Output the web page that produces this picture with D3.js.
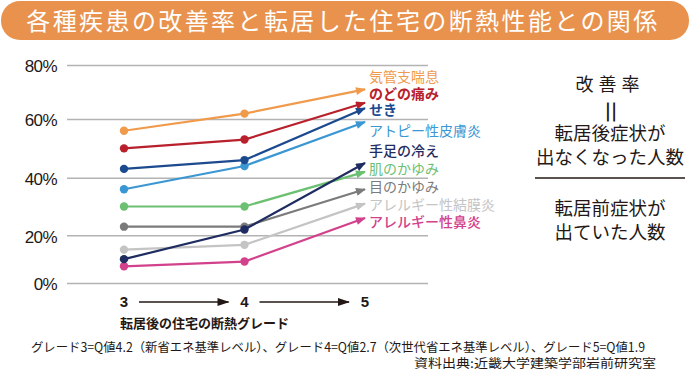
<!DOCTYPE html>
<html>
<head>
<meta charset="utf-8">
<script src="https://cdn.jsdelivr.net/npm/d3@7"></script>
<style>
  body { margin: 0; background: #fff; }
  text { font-family: "Noto Sans CJK JP", "Noto Sans", sans-serif; }
</style>
</head>
<body>
<svg id="chart" width="690" height="370"></svg>
<script>
// grades on the x axis (3 -> 4 -> 5)
const grades = [3, 4, 5];
const yTicks = [0, 20, 40, 60, 80];

// improvement rate (%) per grade
const kikanshi = [56, 62, 71];   // 気管支喘息
const nodo     = [50, 53, 66];   // のどの痛み
const seki     = [43, 46, 64];   // せき
const atopy    = [36, 44, 59];   // アトピー性皮膚炎
const teashi   = [10, 22, 45];   // 手足の冷え
const hada     = [30, 30, 42];   // 肌のかゆみ
const me       = [23, 23, 36];   // 目のかゆみ
const ketsumaku = [14, 16, 31];  // アレルギー性結膜炎
const bien     = [7, 9, 26];     // アレルギー性鼻炎

const seriesNames = ["気管支喘息", "のどの痛み", "せき", "アトピー性皮膚炎", "手足の冷え",
  "肌のかゆみ", "目のかゆみ", "アレルギー性結膜炎", "アレルギー性鼻炎"];
const seriesValues = [kikanshi, nodo, seki, atopy, teashi, hada, me, ketsumaku, bien];
const seriesColors = ["#f09a4c", "#b8202c", "#1c4a8f", "#3a97d3", "#1f2c62",
  "#6cc072", "#7b7b7b", "#c4c4c4", "#d2418b"];
// label rows on the right (y centre)
const labelY = [77, 94, 110, 131, 151, 169, 187, 205, 222];
const labelWeight = [400, 700, 700, 400, 500, 400, 400, 400, 500];

const svg = d3.select("#chart");

// title bar
svg.append("rect")
  .attr("x", 1).attr("y", 1).attr("width", 688).attr("height", 39)
  .attr("rx", 19).attr("fill", "#e8924d");
svg.append("text")
  .attr("x", 343).attr("y", 21).attr("dy", "0.36em")
  .attr("text-anchor", "middle").attr("fill", "#fff")
  .attr("font-size", 24).attr("letter-spacing", 2.4)
  .text("各種疾患の改善率と転居した住宅の断熱性能との関係");

const x = d3.scaleLinear().domain([3, 5]).range([124, 365]);
// the printed grid is not evenly spaced, follow it
const y = d3.scaleLinear().domain(yTicks).range([283, 235.3, 177.7, 119, 65]);

const gridLeft = 67, gridRight = 428;

const yAxis = svg.append("g")
  .attr("transform", "translate(" + gridLeft + ",0)")
  .call(d3.axisLeft(y).tickValues(yTicks).tickFormat(d => d + "%")
    .tickSize(-(gridRight - gridLeft)).tickPadding(10));
yAxis.select(".domain").remove();
yAxis.selectAll(".tick line").attr("stroke", "#b3b3b3").attr("stroke-width", 1.5);
yAxis.selectAll(".tick text")
  .attr("x", -10).attr("dy", "0.4em")
  .style("font-family", "'Liberation Sans', Arial, sans-serif")
  .attr("font-size", 17).attr("fill", "#231815")
  .attr("letter-spacing", -0.6);

// arrow markers, one per colour
const defs = svg.append("defs");
seriesColors.forEach((c, i) => {
  defs.append("marker")
    .attr("id", "arr" + i)
    .attr("markerUnits", "userSpaceOnUse")
    .attr("viewBox", "0 0 10 8")
    .attr("markerWidth", 11).attr("markerHeight", 8)
    .attr("refX", 9).attr("refY", 4)
    .attr("orient", "auto")
    .append("path").attr("d", "M0,0 L10,4 L0,8 Z").attr("fill", c);
});
defs.append("marker")
  .attr("id", "arrBlack")
  .attr("markerUnits", "userSpaceOnUse")
  .attr("viewBox", "0 0 12 8")
  .attr("markerWidth", 13).attr("markerHeight", 8)
  .attr("refX", 11).attr("refY", 4)
  .attr("orient", "auto")
  .append("path").attr("d", "M0,0 L12,4 L0,8 Z").attr("fill", "#231815");

const line = d3.line().x((d, i) => x(grades[i])).y(d => y(d));

const order = d3.range(seriesValues.length).reverse();
order.forEach(i => {
  const vals = seriesValues[i];
  const g = svg.append("g");
  g.append("path")
    .attr("d", line(vals))
    .attr("fill", "none")
    .attr("stroke", seriesColors[i])
    .attr("stroke-width", 2.2)
    .attr("marker-end", "url(#arr" + i + ")");
  g.selectAll("circle")
    .data(vals.slice(0, 2))
    .join("circle")
    .attr("cx", (d, j) => x(grades[j]))
    .attr("cy", d => y(d))
    .attr("r", 4.2)
    .attr("fill", seriesColors[i]);
});

// series labels
svg.append("g").selectAll("text")
  .data(seriesNames)
  .join("text")
  .attr("x", 369)
  .attr("y", (d, i) => labelY[i])
  .attr("dy", "0.34em")
  .attr("font-size", 14)
  .attr("font-weight", (d, i) => labelWeight[i])
  .attr("fill", (d, i) => seriesColors[i])
  .text(d => d);

// grade labels with arrows between them
const gx = svg.append("g");
gx.selectAll("text")
  .data(grades)
  .join("text")
  .attr("x", d => x(d))
  .attr("y", 302)
  .attr("dy", "0.36em")
  .attr("text-anchor", "middle")
  .style("font-family", "'Liberation Sans', Arial, sans-serif")
  .attr("font-size", 15).attr("font-weight", 700)
  .attr("fill", "#231815")
  .text(d => d);
gx.selectAll("line")
  .data(grades.slice(0, 2))
  .join("line")
  .attr("x1", d => x(d) + 15)
  .attr("x2", (d, i) => x(grades[i + 1]) - 16)
  .attr("y1", 302).attr("y2", 302)
  .attr("stroke", "#231815").attr("stroke-width", 1.6)
  .attr("marker-end", "url(#arrBlack)");
svg.append("text")
  .attr("x", 120).attr("y", 323)
  .attr("dy", "0.36em")
  .attr("font-size", 13).attr("font-weight", 700)
  .attr("fill", "#231815")
  .text("転居後の住宅の断熱グレード");

// right-hand definition
const rp = svg.append("g").attr("fill", "#231815").attr("text-anchor", "middle");
const rx = 610;
rp.append("text").attr("x", rx).attr("y", 85).attr("dy", "0.36em")
  .attr("font-size", 18).attr("letter-spacing", 5).text("改善率");
rp.append("text").attr("x", rx).attr("y", 112).attr("dy", "0.36em")
  .attr("font-size", 26).attr("transform", "rotate(90," + rx + ",112)").text("＝");
rp.append("text").attr("x", rx).attr("y", 133).attr("dy", "0.36em")
  .attr("font-size", 18.5).text("転居後症状が");
rp.append("text").attr("x", rx).attr("y", 157).attr("dy", "0.36em")
  .attr("font-size", 18.5).text("出なくなった人数");
svg.append("line")
  .attr("x1", 535).attr("x2", 685).attr("y1", 178).attr("y2", 178)
  .attr("stroke", "#231815").attr("stroke-width", 1.3);
rp.append("text").attr("x", rx).attr("y", 208).attr("dy", "0.36em")
  .attr("font-size", 18.5).text("転居前症状が");
rp.append("text").attr("x", rx).attr("y", 232).attr("dy", "0.36em")
  .attr("font-size", 18.5).text("出ていた人数");

// footnotes
svg.append("text")
  .attr("x", 31).attr("y", 347).attr("dy", "0.36em")
  .attr("font-size", 12.5).attr("fill", "#231815")
  .attr("textLength", 614).attr("lengthAdjust", "spacingAndGlyphs")
  .text("グレード3=Q値4.2（新省エネ基準レベル）、グレード4=Q値2.7（次世代省エネ基準レベル）、グレード5=Q値1.9");
svg.append("text")
  .attr("x", 656).attr("y", 363).attr("dy", "0.36em")
  .attr("text-anchor", "end")
  .attr("font-size", 12.5).attr("fill", "#231815")
  .attr("textLength", 242).attr("lengthAdjust", "spacingAndGlyphs")
  .text("資料出典:近畿大学建築学部岩前研究室");
</script>
</body>
</html>
